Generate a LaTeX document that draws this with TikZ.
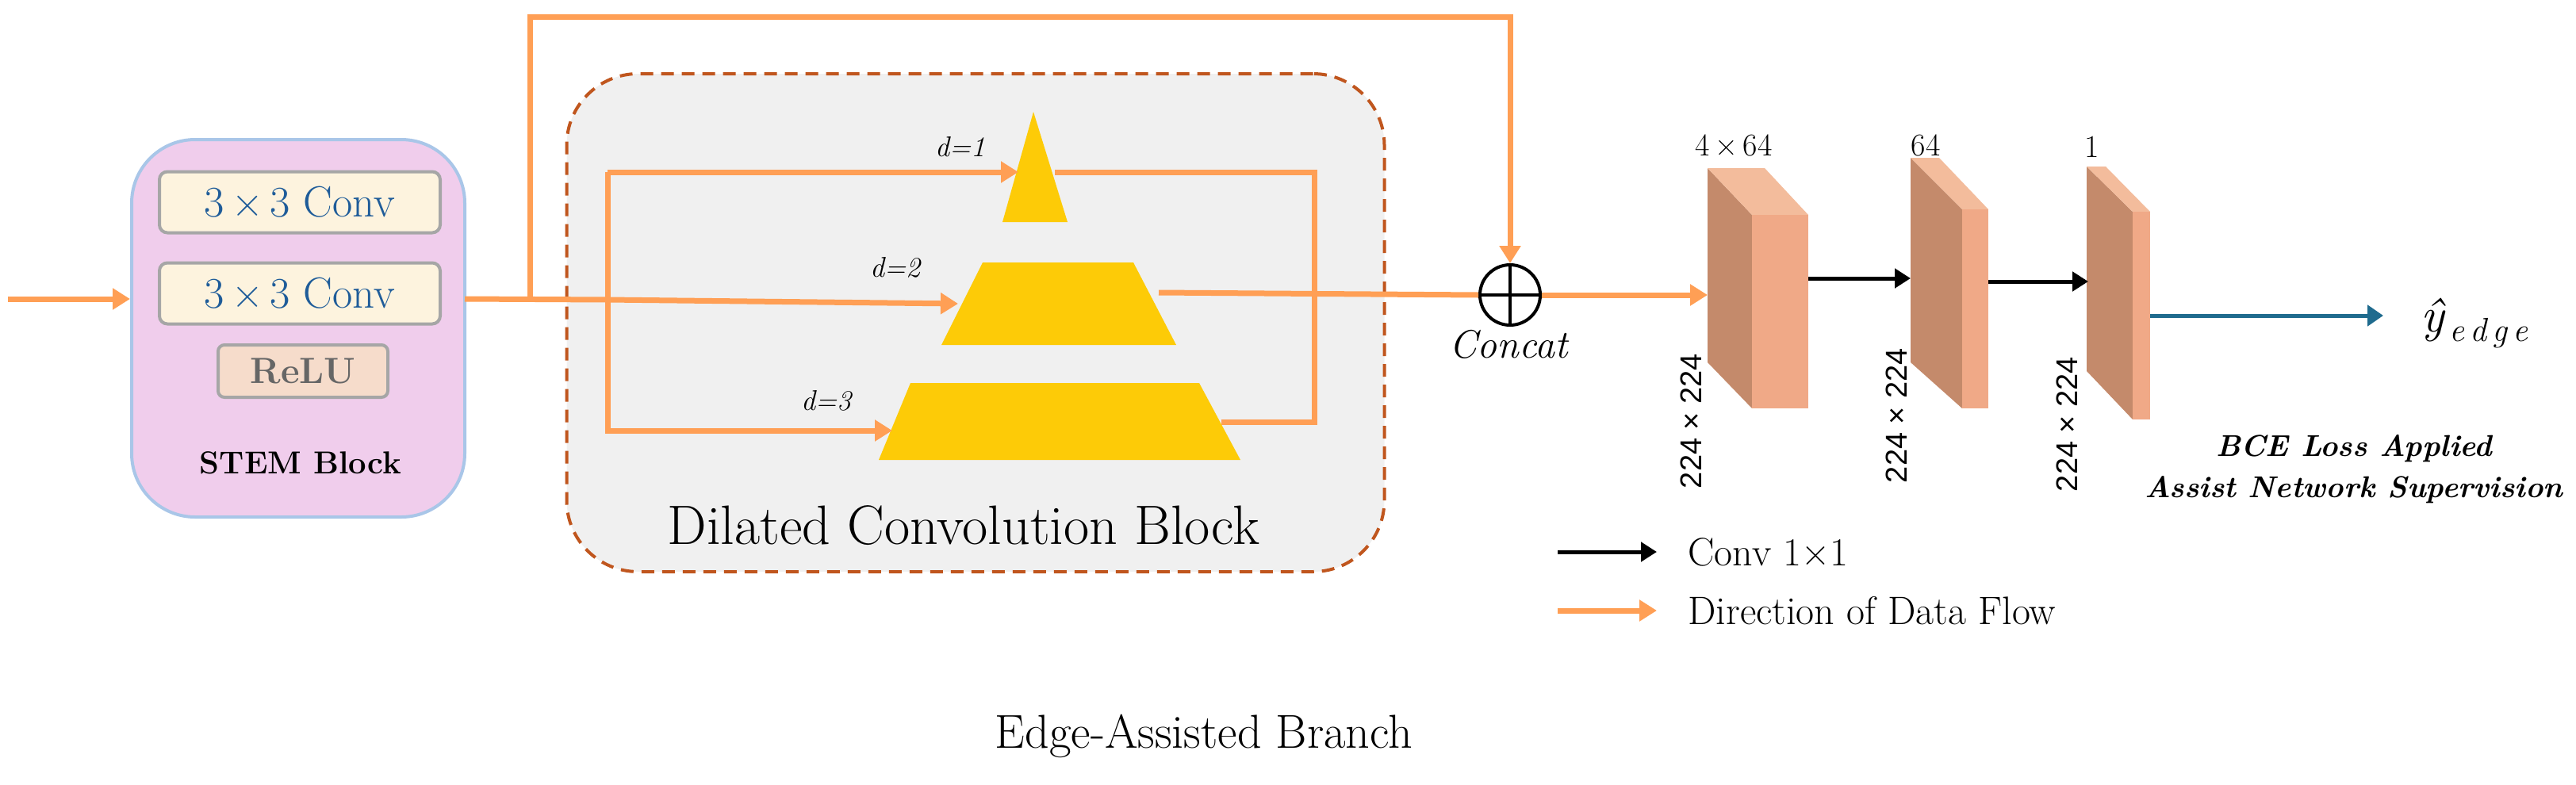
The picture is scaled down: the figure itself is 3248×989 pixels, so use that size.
\documentclass[tikz,border=0pt]{standalone}
\usepackage{fontspec}
\newfontfamily\sansf{Liberation Sans}
\usetikzlibrary{arrows.meta}
\definecolor{flow}{HTML}{FF9F55}
\definecolor{stemfill}{HTML}{F0CDEC}
\definecolor{stemdraw}{HTML}{A9C6E8}
\definecolor{convfill}{HTML}{FDF3DE}
\definecolor{relufill}{HTML}{F6DCCB}
\definecolor{dashc}{HTML}{C0561E}
\definecolor{tri}{HTML}{FDCB07}
\definecolor{dk}{HTML}{C48A6B}
\definecolor{fr}{HTML}{F0A987}
\definecolor{tp}{HTML}{F3BC9C}
\definecolor{blu}{HTML}{1F6B8E}
\definecolor{convtxt}{HTML}{1F5C99}
\newcommand{\fs}[1]{\fontsize{#1}{#1}\selectfont}
\begin{document}
\begin{tikzpicture}[x=1pt,y=-1pt,
  fl/.style={draw=flow,line width=7pt},
  fla/.style={fl,-{Triangle[length=22pt,width=26pt]}},
  bka/.style={draw=black,line width=5pt,-{Triangle[length=20pt,width=24pt]}},
  conv/.style={draw=gray!70,line width=4pt,fill=convfill,rounded corners=10pt,minimum width=354pt,minimum height=77pt,text=convtxt,font=\fs{55}},
  lbl/.style={inner sep=0pt,font=\fs{36}\itshape}]
\useasboundingbox (0,0) rectangle (3248,989);
% STEM
\node[draw=stemdraw,line width=4pt,fill=stemfill,rounded corners=80pt,minimum width=420pt,minimum height=476pt] (stem) at (376,414) {};
\node[conv] (c1) at (378,255) {3\,×\,3 Conv};
\node[conv] (c2) at (378,370) {3\,×\,3 Conv};
\node[draw=gray!70,line width=4pt,fill=relufill,rounded corners=8pt,minimum width=214pt,minimum height=66pt,text=gray!80!black,font=\fs{46}\bfseries] (relu) at (382,468) {ReLU};
\node[font=\fs{40}\bfseries] (stl) at (379,584) {STEM Block};
\coordinate (in) at (10,377);
\draw[fla] (in) -- (stem.west |- in);
% Dilated block
\node[draw=dashc,line width=4pt,dash pattern=on 16pt off 10pt,fill=gray!12,rounded corners=90pt,minimum width=1031pt,minimum height=628pt] (dil) at (1230,407) {};
\node[font=\fs{70}] (dlt) at (1215,663) {Dilated Convolution Block};
% pyramids
\fill[tri] (1303,141) -- (1346,280) -- (1264,280) -- cycle;
\fill[tri] (1239,331) -- (1429,331) -- (1483,435) -- (1187,435) -- cycle;
\fill[tri] (1148,483) -- (1512,483) -- (1564,580) -- (1108,580) -- cycle;
\coordinate (p1) at (1284,217); \coordinate (p2) at (1208,383); \coordinate (p3) at (1125,543);
\coordinate (o1) at (1330,217); \coordinate (o2) at (1461,369); \coordinate (o3) at (1540,532);
\node[lbl] at (1211,185) {d=1};
\node[lbl] at (1129,337) {d=2};
\node[lbl] at (1042,505) {d=3};
% main line
\coordinate (st) at (586,377);
\coordinate (br) at (766,378);
\draw[fla] (st) -- (br) -- (p2);
\draw[fla] (766,217) -- (p1);
\draw[fla] (766,217) -- (766,543) -- (p3);
\draw[fl] (o1) -- (1657,217) -- (1657,532) -- (o3);
% concat
\node[draw,line width=4pt,circle,minimum size=76pt,inner sep=0pt] (cc) at (1904,372) {};
\draw[line width=4pt] (cc.north) -- (cc.south) (cc.west) -- (cc.east);
\node[font=\fs{50}\itshape] at (1902,434) {Concat};
\draw[fla] (668,377) -- (668,21) -- (1904,21) -- (cc.north);
\draw[fl] (o2) -- (cc.west);
% blocks
\fill[dk] (2153,212) -- (2209,271) -- (2209,515) -- (2153,457) -- cycle;
\fill[tp] (2153,212) -- (2225,212) -- (2280,271) -- (2209,271) -- cycle;
\fill[fr] (2209,271) rectangle (2280,515);
\fill[dk] (2409,199) -- (2474,264) -- (2474,515) -- (2409,457) -- cycle;
\fill[tp] (2409,199) -- (2445,199) -- (2507,264) -- (2474,264) -- cycle;
\fill[fr] (2474,264) rectangle (2507,515);
\fill[dk] (2631,210) -- (2689,267) -- (2689,529) -- (2631,468) -- cycle;
\fill[tp] (2631,210) -- (2655,210) -- (2711,267) -- (2689,267) -- cycle;
\fill[fr] (2689,267) rectangle (2711,529);
\coordinate (b1) at (2153,372); \coordinate (b1o) at (2280,351); \coordinate (b2) at (2409,351);
\coordinate (b2o) at (2507,355); \coordinate (b3) at (2633,355); \coordinate (b3o) at (2711,398);
\draw[fla] (cc.east |- b1) -- (b1);
\draw[bka] (b1o) -- (b2);
\draw[bka] (b2o) -- (b3);
\node[font=\fs{62}\itshape] (ye) at (3120,408) {ŷ\raisebox{-12pt}{\fs{42}\,e\,d\,g\,e}};
\draw[draw=blu,line width=5pt,-{Triangle[length=20pt,width=26pt]}] (b3o) -- (3005,398);
\node[font=\fs{40}] at (2186,183) {4\,×\,64};
\node[font=\fs{40}] at (2428,183) {64};
\node[font=\fs{40}] at (2638,185) {1};
\node[font=\sansf\fs{38},rotate=90] at (2132,531) {224 × 224};
\node[font=\sansf\fs{38},rotate=90] at (2391,524) {224 × 224};
\node[font=\sansf\fs{38},rotate=90] at (2606,535) {224 × 224};
\node[font=\fs{38}\bfseries\itshape] at (2968,566) {BCE Loss Applied};
\node[font=\fs{38}\bfseries\itshape] at (2968,618) {Assist Network Supervision};
% legend
\coordinate (l1a) at (1964,696); \coordinate (l1b) at (2089,696);
\coordinate (l2a) at (1964,770); \coordinate (l2b) at (2089,770);
\draw[bka] (l1a) -- (l1b);
\draw[fla] (l2a) -- (l2b);
\node[font=\fs{50},anchor=west] at (2125,696) {Conv 1×1};
\node[font=\fs{50},anchor=west] at (2125,770) {Direction of Data Flow};
\node[font=\fs{60}] at (1518,928) {Edge-Assisted Branch};
\end{tikzpicture}
\end{document}
